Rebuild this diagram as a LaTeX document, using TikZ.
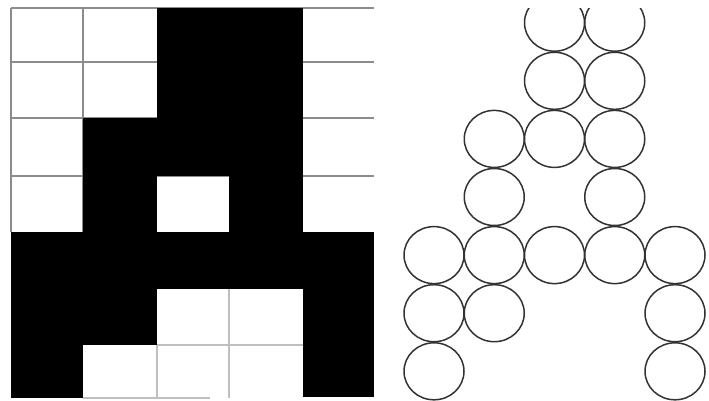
\documentclass[tikz,border=0pt]{standalone}
\begin{document}
\begin{tikzpicture}[x=1pt,y=-1pt,
  darkgrid/.style={draw=black!45, line width=1.8pt},
  lightgrid/.style={draw=black!25, line width=1.4pt},
  cell/.style={fill=black},
  bead/.style={draw=black!80, line width=1.5pt, x radius=30, y radius=28.5}]
\useasboundingbox[fill=white] (0,0) rectangle (709,400);
% grid lines (upper part)
\foreach \y in {8,62,118,176} \draw[darkgrid] (11,\y) -- (374,\y);
\foreach \x in {11,83} \draw[darkgrid] (\x,8) -- (\x,232);
% grid lines (lower part)
\draw[lightgrid] (157,345) -- (303,345);
\draw[lightgrid] (83,398) -- (210,398);
\draw[lightgrid] (229,289) -- (229,398);
\draw[lightgrid] (157,345) -- (157,398);
% black cells
\fill[cell] (157,8) rectangle (303,118);
\fill[cell] (83,118) rectangle (303,176);
\fill[cell] (83,176) rectangle (157,232);
\fill[cell] (229,176) rectangle (303,232);
\fill[cell] (11,232) rectangle (374,289);
\fill[cell] (11,289) rectangle (157,345);
\fill[cell] (303,289) rectangle (374,345);
\fill[cell] (11,345) rectangle (83,398);
\fill[cell] (303,345) rectangle (374,397);
% circles
\begin{scope}
\clip (390,8) rectangle (709,400);
\foreach \c/\r in {2/0,3/0,2/1,3/1,1/2,2/2,3/2,1/3,3/3,0/4,1/4,2/4,3/4,4/4,0/5,1/5,4/5,0/6,4/6}
  \draw[bead] ({434+60.25*\c},{22.7+58.1*\r}) ellipse [x radius=30, y radius=28.5];
\end{scope}
\end{tikzpicture}
\end{document}
